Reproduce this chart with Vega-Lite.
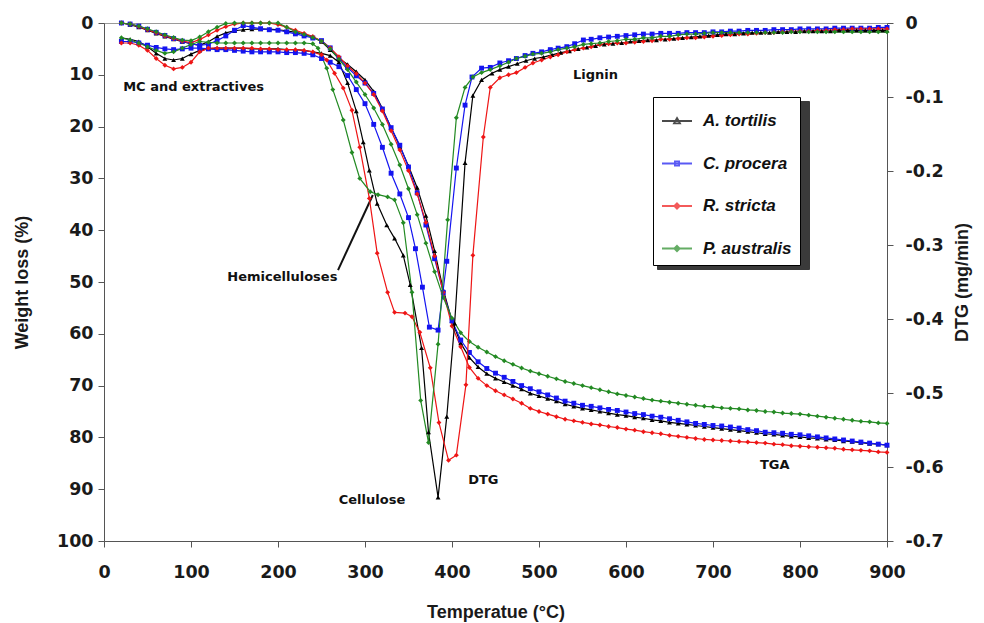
{
"$schema":"https://vega.github.io/schema/vega-lite/v6.json",
"width":783,"height":518,
"autosize":{"type":"none"},
"padding":{"left":104,"top":23,"right":97,"bottom":82},
"background":"white",
"config":{"font":"Liberation Sans","view":{"stroke":"#9a9a9a","strokeWidth":1},
"axis":{"grid":false,"domainColor":"#555555","tickColor":"#555555","tickSize":6,"labelFont":"DejaVu Sans","labelFontSize":17.5,"labelFontWeight":"bold","labelColor":"#1a1a1a","titleFont":"Liberation Sans","titleFontSize":18,"titleFontWeight":"bold","titleColor":"#1a1a1a","labelFlush":false},
"legend":{"orient":"none","title":null,"padding":8,"labelFont":"Liberation Sans","labelFontStyle":"italic","labelFontWeight":"bold","labelFontSize":17,"labelColor":"#111111","labelOffset":10,"symbolSize":900,"rowPadding":18.5,"symbolStrokeWidth":1.8}},
"datasets":{
"notes":[
{"label":"MC and extractives","t":103,"v":12.4},
{"label":"Lignin","t":565,"v":10.0},
{"label":"Hemicelluloses","t":205,"v":49.0},
{"label":"Cellulose","t":308,"v":92.0},
{"label":"DTG","t":436,"v":88.3},
{"label":"TGA","t":771,"v":85.3}],
"arrow":[{"t":269,"v":47.7,"t2":309,"v2":33.2}],
"tga":[
{"s":"A. tortilis","t":20,"v":0},{"s":"A. tortilis","t":30,"v":0.3},{"s":"A. tortilis","t":40,"v":0.8},{"s":"A. tortilis","t":50,"v":1.4},{"s":"A. tortilis","t":60,"v":2.0},{"s":"A. tortilis","t":70,"v":2.6},{"s":"A. tortilis","t":80,"v":3.1},{"s":"A. tortilis","t":90,"v":3.6},{"s":"A. tortilis","t":100,"v":4.0},{"s":"A. tortilis","t":110,"v":4.3},{"s":"A. tortilis","t":120,"v":3.6},{"s":"A. tortilis","t":130,"v":2.6},{"s":"A. tortilis","t":140,"v":1.9},{"s":"A. tortilis","t":150,"v":1.5},{"s":"A. tortilis","t":160,"v":1.3},{"s":"A. tortilis","t":170,"v":1.2},{"s":"A. tortilis","t":180,"v":1.2},{"s":"A. tortilis","t":190,"v":1.2},{"s":"A. tortilis","t":200,"v":1.3},{"s":"A. tortilis","t":210,"v":1.5},{"s":"A. tortilis","t":220,"v":1.8},{"s":"A. tortilis","t":230,"v":2.2},{"s":"A. tortilis","t":240,"v":2.7},{"s":"A. tortilis","t":250,"v":3.6},{"s":"A. tortilis","t":260,"v":5.2},{"s":"A. tortilis","t":270,"v":6.8},{"s":"A. tortilis","t":280,"v":8.0},{"s":"A. tortilis","t":290,"v":9.4},{"s":"A. tortilis","t":300,"v":11.0},{"s":"A. tortilis","t":310,"v":13.2},{"s":"A. tortilis","t":320,"v":16.5},{"s":"A. tortilis","t":330,"v":20.2},{"s":"A. tortilis","t":340,"v":23.8},{"s":"A. tortilis","t":350,"v":27.6},{"s":"A. tortilis","t":360,"v":31.8},{"s":"A. tortilis","t":370,"v":37.2},{"s":"A. tortilis","t":380,"v":44},{"s":"A. tortilis","t":390,"v":51.5},{"s":"A. tortilis","t":400,"v":57.5},{"s":"A. tortilis","t":410,"v":61.8},{"s":"A. tortilis","t":420,"v":64.6},{"s":"A. tortilis","t":430,"v":66.4},{"s":"A. tortilis","t":440,"v":67.7},{"s":"A. tortilis","t":450,"v":68.6},{"s":"A. tortilis","t":460,"v":69.3},{"s":"A. tortilis","t":470,"v":70.0},{"s":"A. tortilis","t":480,"v":70.7},{"s":"A. tortilis","t":490,"v":71.5},{"s":"A. tortilis","t":500,"v":72.0},{"s":"A. tortilis","t":510,"v":72.5},{"s":"A. tortilis","t":520,"v":73.0},{"s":"A. tortilis","t":530,"v":73.6},{"s":"A. tortilis","t":540,"v":74.0},{"s":"A. tortilis","t":550,"v":74.4},{"s":"A. tortilis","t":560,"v":74.7},{"s":"A. tortilis","t":570,"v":75.0},{"s":"A. tortilis","t":580,"v":75.3},{"s":"A. tortilis","t":590,"v":75.6},{"s":"A. tortilis","t":600,"v":75.8},{"s":"A. tortilis","t":610,"v":76.1},{"s":"A. tortilis","t":620,"v":76.3},{"s":"A. tortilis","t":630,"v":76.6},{"s":"A. tortilis","t":640,"v":76.8},{"s":"A. tortilis","t":650,"v":77.1},{"s":"A. tortilis","t":660,"v":77.3},{"s":"A. tortilis","t":670,"v":77.5},{"s":"A. tortilis","t":680,"v":77.7},{"s":"A. tortilis","t":690,"v":77.9},{"s":"A. tortilis","t":700,"v":78.1},{"s":"A. tortilis","t":710,"v":78.3},{"s":"A. tortilis","t":720,"v":78.5},{"s":"A. tortilis","t":730,"v":78.7},{"s":"A. tortilis","t":740,"v":78.9},{"s":"A. tortilis","t":750,"v":79.1},{"s":"A. tortilis","t":760,"v":79.3},{"s":"A. tortilis","t":770,"v":79.4},{"s":"A. tortilis","t":780,"v":79.6},{"s":"A. tortilis","t":790,"v":79.8},{"s":"A. tortilis","t":800,"v":79.9},{"s":"A. tortilis","t":810,"v":80.1},{"s":"A. tortilis","t":820,"v":80.2},{"s":"A. tortilis","t":830,"v":80.4},{"s":"A. tortilis","t":840,"v":80.5},{"s":"A. tortilis","t":850,"v":80.7},{"s":"A. tortilis","t":860,"v":80.8},{"s":"A. tortilis","t":870,"v":81.0},{"s":"A. tortilis","t":880,"v":81.2},{"s":"A. tortilis","t":890,"v":81.3},{"s":"A. tortilis","t":900,"v":81.5},
{"s":"C. procera","t":20,"v":0},{"s":"C. procera","t":30,"v":0.2},{"s":"C. procera","t":40,"v":0.6},{"s":"C. procera","t":50,"v":1.2},{"s":"C. procera","t":60,"v":1.8},{"s":"C. procera","t":70,"v":2.4},{"s":"C. procera","t":80,"v":3.0},{"s":"C. procera","t":90,"v":3.5},{"s":"C. procera","t":100,"v":4.0},{"s":"C. procera","t":110,"v":4.3},{"s":"C. procera","t":120,"v":4.1},{"s":"C. procera","t":130,"v":3.4},{"s":"C. procera","t":140,"v":2.5},{"s":"C. procera","t":150,"v":1.4},{"s":"C. procera","t":160,"v":0.5},{"s":"C. procera","t":170,"v":0.8},{"s":"C. procera","t":180,"v":1.1},{"s":"C. procera","t":190,"v":1.3},{"s":"C. procera","t":200,"v":1.4},{"s":"C. procera","t":210,"v":1.7},{"s":"C. procera","t":220,"v":2.1},{"s":"C. procera","t":230,"v":2.5},{"s":"C. procera","t":240,"v":2.9},{"s":"C. procera","t":250,"v":3.4},{"s":"C. procera","t":260,"v":4.8},{"s":"C. procera","t":270,"v":6.8},{"s":"C. procera","t":280,"v":8.6},{"s":"C. procera","t":290,"v":10.2},{"s":"C. procera","t":300,"v":11.6},{"s":"C. procera","t":310,"v":13.6},{"s":"C. procera","t":320,"v":16.6},{"s":"C. procera","t":330,"v":20.2},{"s":"C. procera","t":340,"v":23.6},{"s":"C. procera","t":350,"v":27.8},{"s":"C. procera","t":360,"v":32.8},{"s":"C. procera","t":370,"v":39},{"s":"C. procera","t":380,"v":45.5},{"s":"C. procera","t":390,"v":52},{"s":"C. procera","t":400,"v":57.5},{"s":"C. procera","t":410,"v":61.2},{"s":"C. procera","t":420,"v":63.6},{"s":"C. procera","t":430,"v":65.4},{"s":"C. procera","t":440,"v":66.7},{"s":"C. procera","t":450,"v":67.6},{"s":"C. procera","t":460,"v":68.4},{"s":"C. procera","t":470,"v":69.2},{"s":"C. procera","t":480,"v":70.0},{"s":"C. procera","t":490,"v":70.6},{"s":"C. procera","t":500,"v":71.2},{"s":"C. procera","t":510,"v":71.8},{"s":"C. procera","t":520,"v":72.4},{"s":"C. procera","t":530,"v":73.0},{"s":"C. procera","t":540,"v":73.4},{"s":"C. procera","t":550,"v":73.8},{"s":"C. procera","t":560,"v":74.0},{"s":"C. procera","t":570,"v":74.3},{"s":"C. procera","t":580,"v":74.6},{"s":"C. procera","t":590,"v":74.8},{"s":"C. procera","t":600,"v":75.1},{"s":"C. procera","t":610,"v":75.4},{"s":"C. procera","t":620,"v":75.6},{"s":"C. procera","t":630,"v":75.9},{"s":"C. procera","t":640,"v":76.1},{"s":"C. procera","t":650,"v":76.4},{"s":"C. procera","t":660,"v":76.7},{"s":"C. procera","t":670,"v":77.0},{"s":"C. procera","t":680,"v":77.3},{"s":"C. procera","t":690,"v":77.5},{"s":"C. procera","t":700,"v":77.7},{"s":"C. procera","t":710,"v":77.8},{"s":"C. procera","t":720,"v":78.0},{"s":"C. procera","t":730,"v":78.2},{"s":"C. procera","t":740,"v":78.5},{"s":"C. procera","t":750,"v":78.7},{"s":"C. procera","t":760,"v":79.0},{"s":"C. procera","t":770,"v":79.1},{"s":"C. procera","t":780,"v":79.2},{"s":"C. procera","t":790,"v":79.4},{"s":"C. procera","t":800,"v":79.5},{"s":"C. procera","t":810,"v":79.7},{"s":"C. procera","t":820,"v":79.9},{"s":"C. procera","t":830,"v":80.1},{"s":"C. procera","t":840,"v":80.3},{"s":"C. procera","t":850,"v":80.5},{"s":"C. procera","t":860,"v":80.7},{"s":"C. procera","t":870,"v":80.9},{"s":"C. procera","t":880,"v":81.1},{"s":"C. procera","t":890,"v":81.3},{"s":"C. procera","t":900,"v":81.5},
{"s":"R. stricta","t":20,"v":0},{"s":"R. stricta","t":30,"v":0.2},{"s":"R. stricta","t":40,"v":0.7},{"s":"R. stricta","t":50,"v":1.3},{"s":"R. stricta","t":60,"v":1.9},{"s":"R. stricta","t":70,"v":2.5},{"s":"R. stricta","t":80,"v":3.0},{"s":"R. stricta","t":90,"v":3.5},{"s":"R. stricta","t":100,"v":3.8},{"s":"R. stricta","t":110,"v":3.2},{"s":"R. stricta","t":120,"v":2.3},{"s":"R. stricta","t":130,"v":1.4},{"s":"R. stricta","t":140,"v":0.7},{"s":"R. stricta","t":150,"v":0.2},{"s":"R. stricta","t":160,"v":0},{"s":"R. stricta","t":170,"v":0},{"s":"R. stricta","t":180,"v":0},{"s":"R. stricta","t":190,"v":0},{"s":"R. stricta","t":200,"v":0.3},{"s":"R. stricta","t":210,"v":0.8},{"s":"R. stricta","t":220,"v":1.4},{"s":"R. stricta","t":230,"v":2.0},{"s":"R. stricta","t":240,"v":2.6},{"s":"R. stricta","t":250,"v":3.5},{"s":"R. stricta","t":260,"v":4.8},{"s":"R. stricta","t":270,"v":6.5},{"s":"R. stricta","t":280,"v":8.3},{"s":"R. stricta","t":290,"v":9.8},{"s":"R. stricta","t":300,"v":11.6},{"s":"R. stricta","t":310,"v":13.8},{"s":"R. stricta","t":320,"v":17.0},{"s":"R. stricta","t":330,"v":20.8},{"s":"R. stricta","t":340,"v":24.5},{"s":"R. stricta","t":350,"v":28.5},{"s":"R. stricta","t":360,"v":33},{"s":"R. stricta","t":370,"v":38.5},{"s":"R. stricta","t":380,"v":45},{"s":"R. stricta","t":390,"v":52},{"s":"R. stricta","t":400,"v":58.5},{"s":"R. stricta","t":410,"v":62.5},{"s":"R. stricta","t":420,"v":66.5},{"s":"R. stricta","t":430,"v":68.6},{"s":"R. stricta","t":440,"v":70.0},{"s":"R. stricta","t":450,"v":71.0},{"s":"R. stricta","t":460,"v":71.8},{"s":"R. stricta","t":470,"v":72.6},{"s":"R. stricta","t":480,"v":73.4},{"s":"R. stricta","t":490,"v":74.4},{"s":"R. stricta","t":500,"v":75.0},{"s":"R. stricta","t":510,"v":75.5},{"s":"R. stricta","t":520,"v":76.0},{"s":"R. stricta","t":530,"v":76.5},{"s":"R. stricta","t":540,"v":76.8},{"s":"R. stricta","t":550,"v":77.1},{"s":"R. stricta","t":560,"v":77.4},{"s":"R. stricta","t":570,"v":77.6},{"s":"R. stricta","t":580,"v":77.9},{"s":"R. stricta","t":590,"v":78.1},{"s":"R. stricta","t":600,"v":78.4},{"s":"R. stricta","t":610,"v":78.6},{"s":"R. stricta","t":620,"v":78.9},{"s":"R. stricta","t":630,"v":79.1},{"s":"R. stricta","t":640,"v":79.3},{"s":"R. stricta","t":650,"v":79.6},{"s":"R. stricta","t":660,"v":79.8},{"s":"R. stricta","t":670,"v":80.0},{"s":"R. stricta","t":680,"v":80.2},{"s":"R. stricta","t":690,"v":80.4},{"s":"R. stricta","t":700,"v":80.5},{"s":"R. stricta","t":710,"v":80.6},{"s":"R. stricta","t":720,"v":80.7},{"s":"R. stricta","t":730,"v":80.8},{"s":"R. stricta","t":740,"v":80.9},{"s":"R. stricta","t":750,"v":81.0},{"s":"R. stricta","t":760,"v":81.1},{"s":"R. stricta","t":770,"v":81.3},{"s":"R. stricta","t":780,"v":81.4},{"s":"R. stricta","t":790,"v":81.6},{"s":"R. stricta","t":800,"v":81.7},{"s":"R. stricta","t":810,"v":81.8},{"s":"R. stricta","t":820,"v":81.9},{"s":"R. stricta","t":830,"v":82.0},{"s":"R. stricta","t":840,"v":82.1},{"s":"R. stricta","t":850,"v":82.3},{"s":"R. stricta","t":860,"v":82.4},{"s":"R. stricta","t":870,"v":82.5},{"s":"R. stricta","t":880,"v":82.6},{"s":"R. stricta","t":890,"v":82.8},{"s":"R. stricta","t":900,"v":82.9},
{"s":"P. australis","t":20,"v":0},{"s":"P. australis","t":30,"v":0.2},{"s":"P. australis","t":40,"v":0.6},{"s":"P. australis","t":50,"v":1.1},{"s":"P. australis","t":60,"v":1.7},{"s":"P. australis","t":70,"v":2.3},{"s":"P. australis","t":80,"v":2.8},{"s":"P. australis","t":90,"v":3.3},{"s":"P. australis","t":100,"v":3.4},{"s":"P. australis","t":110,"v":2.7},{"s":"P. australis","t":120,"v":1.7},{"s":"P. australis","t":130,"v":0.8},{"s":"P. australis","t":140,"v":0.1},{"s":"P. australis","t":150,"v":0},{"s":"P. australis","t":160,"v":0},{"s":"P. australis","t":170,"v":0},{"s":"P. australis","t":180,"v":0},{"s":"P. australis","t":190,"v":0},{"s":"P. australis","t":200,"v":0},{"s":"P. australis","t":210,"v":0.8},{"s":"P. australis","t":220,"v":1.7},{"s":"P. australis","t":230,"v":2.2},{"s":"P. australis","t":240,"v":2.8},{"s":"P. australis","t":250,"v":3.5},{"s":"P. australis","t":260,"v":5.0},{"s":"P. australis","t":270,"v":7.0},{"s":"P. australis","t":280,"v":9.0},{"s":"P. australis","t":290,"v":11.4},{"s":"P. australis","t":300,"v":13.8},{"s":"P. australis","t":310,"v":16.4},{"s":"P. australis","t":320,"v":19.6},{"s":"P. australis","t":330,"v":23.4},{"s":"P. australis","t":340,"v":27.4},{"s":"P. australis","t":350,"v":32},{"s":"P. australis","t":360,"v":37},{"s":"P. australis","t":370,"v":42.5},{"s":"P. australis","t":380,"v":48},{"s":"P. australis","t":390,"v":53},{"s":"P. australis","t":400,"v":57},{"s":"P. australis","t":410,"v":59.8},{"s":"P. australis","t":420,"v":61.5},{"s":"P. australis","t":430,"v":62.6},{"s":"P. australis","t":440,"v":63.5},{"s":"P. australis","t":450,"v":64.4},{"s":"P. australis","t":460,"v":65.2},{"s":"P. australis","t":470,"v":65.9},{"s":"P. australis","t":480,"v":66.6},{"s":"P. australis","t":490,"v":67.2},{"s":"P. australis","t":500,"v":67.7},{"s":"P. australis","t":510,"v":68.2},{"s":"P. australis","t":520,"v":68.7},{"s":"P. australis","t":530,"v":69.2},{"s":"P. australis","t":540,"v":69.6},{"s":"P. australis","t":550,"v":70.0},{"s":"P. australis","t":560,"v":70.4},{"s":"P. australis","t":570,"v":70.8},{"s":"P. australis","t":580,"v":71.2},{"s":"P. australis","t":590,"v":71.6},{"s":"P. australis","t":600,"v":71.9},{"s":"P. australis","t":610,"v":72.2},{"s":"P. australis","t":620,"v":72.5},{"s":"P. australis","t":630,"v":72.8},{"s":"P. australis","t":640,"v":73.0},{"s":"P. australis","t":650,"v":73.2},{"s":"P. australis","t":660,"v":73.4},{"s":"P. australis","t":670,"v":73.6},{"s":"P. australis","t":680,"v":73.8},{"s":"P. australis","t":690,"v":74.0},{"s":"P. australis","t":700,"v":74.1},{"s":"P. australis","t":710,"v":74.3},{"s":"P. australis","t":720,"v":74.4},{"s":"P. australis","t":730,"v":74.5},{"s":"P. australis","t":740,"v":74.7},{"s":"P. australis","t":750,"v":74.8},{"s":"P. australis","t":760,"v":75.0},{"s":"P. australis","t":770,"v":75.1},{"s":"P. australis","t":780,"v":75.3},{"s":"P. australis","t":790,"v":75.4},{"s":"P. australis","t":800,"v":75.5},{"s":"P. australis","t":810,"v":75.7},{"s":"P. australis","t":820,"v":75.9},{"s":"P. australis","t":830,"v":76.1},{"s":"P. australis","t":840,"v":76.3},{"s":"P. australis","t":850,"v":76.5},{"s":"P. australis","t":860,"v":76.7},{"s":"P. australis","t":870,"v":76.9},{"s":"P. australis","t":880,"v":77.0},{"s":"P. australis","t":890,"v":77.2},{"s":"P. australis","t":900,"v":77.3}
],
"dtg":[
{"s":"A. tortilis","t":20,"v":-0.020},{"s":"A. tortilis","t":30,"v":-0.022},{"s":"A. tortilis","t":40,"v":-0.025},{"s":"A. tortilis","t":50,"v":-0.032},{"s":"A. tortilis","t":60,"v":-0.041},{"s":"A. tortilis","t":70,"v":-0.048},{"s":"A. tortilis","t":80,"v":-0.050},{"s":"A. tortilis","t":90,"v":-0.048},{"s":"A. tortilis","t":100,"v":-0.042},{"s":"A. tortilis","t":110,"v":-0.037},{"s":"A. tortilis","t":120,"v":-0.035},{"s":"A. tortilis","t":130,"v":-0.034},{"s":"A. tortilis","t":140,"v":-0.034},{"s":"A. tortilis","t":150,"v":-0.034},{"s":"A. tortilis","t":160,"v":-0.034},{"s":"A. tortilis","t":170,"v":-0.035},{"s":"A. tortilis","t":180,"v":-0.035},{"s":"A. tortilis","t":190,"v":-0.035},{"s":"A. tortilis","t":200,"v":-0.035},{"s":"A. tortilis","t":210,"v":-0.036},{"s":"A. tortilis","t":220,"v":-0.036},{"s":"A. tortilis","t":230,"v":-0.037},{"s":"A. tortilis","t":240,"v":-0.039},{"s":"A. tortilis","t":250,"v":-0.041},{"s":"A. tortilis","t":260,"v":-0.044},{"s":"A. tortilis","t":270,"v":-0.053},{"s":"A. tortilis","t":280,"v":-0.081},{"s":"A. tortilis","t":290,"v":-0.119},{"s":"A. tortilis","t":298,"v":-0.161},{"s":"A. tortilis","t":305,"v":-0.199},{"s":"A. tortilis","t":314,"v":-0.244},{"s":"A. tortilis","t":325,"v":-0.273},{"s":"A. tortilis","t":334,"v":-0.291},{"s":"A. tortilis","t":344,"v":-0.314},{"s":"A. tortilis","t":352,"v":-0.354},{"s":"A. tortilis","t":365,"v":-0.439},{"s":"A. tortilis","t":373,"v":-0.553},{"s":"A. tortilis","t":384,"v":-0.641},{"s":"A. tortilis","t":394,"v":-0.532},{"s":"A. tortilis","t":403,"v":-0.406},{"s":"A. tortilis","t":415,"v":-0.189},{"s":"A. tortilis","t":424,"v":-0.098},{"s":"A. tortilis","t":434,"v":-0.077},{"s":"A. tortilis","t":446,"v":-0.068},{"s":"A. tortilis","t":455,"v":-0.063},{"s":"A. tortilis","t":465,"v":-0.059},{"s":"A. tortilis","t":475,"v":-0.055},{"s":"A. tortilis","t":485,"v":-0.051},{"s":"A. tortilis","t":495,"v":-0.048},{"s":"A. tortilis","t":505,"v":-0.046},{"s":"A. tortilis","t":515,"v":-0.043},{"s":"A. tortilis","t":525,"v":-0.040},{"s":"A. tortilis","t":535,"v":-0.038},{"s":"A. tortilis","t":545,"v":-0.035},{"s":"A. tortilis","t":555,"v":-0.033},{"s":"A. tortilis","t":565,"v":-0.031},{"s":"A. tortilis","t":575,"v":-0.029},{"s":"A. tortilis","t":585,"v":-0.028},{"s":"A. tortilis","t":595,"v":-0.027},{"s":"A. tortilis","t":605,"v":-0.025},{"s":"A. tortilis","t":615,"v":-0.024},{"s":"A. tortilis","t":625,"v":-0.023},{"s":"A. tortilis","t":635,"v":-0.023},{"s":"A. tortilis","t":645,"v":-0.022},{"s":"A. tortilis","t":655,"v":-0.021},{"s":"A. tortilis","t":665,"v":-0.020},{"s":"A. tortilis","t":675,"v":-0.019},{"s":"A. tortilis","t":685,"v":-0.018},{"s":"A. tortilis","t":695,"v":-0.017},{"s":"A. tortilis","t":705,"v":-0.016},{"s":"A. tortilis","t":715,"v":-0.015},{"s":"A. tortilis","t":725,"v":-0.015},{"s":"A. tortilis","t":735,"v":-0.014},{"s":"A. tortilis","t":745,"v":-0.013},{"s":"A. tortilis","t":755,"v":-0.013},{"s":"A. tortilis","t":765,"v":-0.013},{"s":"A. tortilis","t":775,"v":-0.012},{"s":"A. tortilis","t":785,"v":-0.012},{"s":"A. tortilis","t":795,"v":-0.012},{"s":"A. tortilis","t":805,"v":-0.011},{"s":"A. tortilis","t":815,"v":-0.011},{"s":"A. tortilis","t":825,"v":-0.011},{"s":"A. tortilis","t":835,"v":-0.011},{"s":"A. tortilis","t":845,"v":-0.010},{"s":"A. tortilis","t":855,"v":-0.010},{"s":"A. tortilis","t":865,"v":-0.010},{"s":"A. tortilis","t":875,"v":-0.010},{"s":"A. tortilis","t":885,"v":-0.010},{"s":"A. tortilis","t":895,"v":-0.010},{"s":"A. tortilis","t":900,"v":-0.010},
{"s":"C. procera","t":20,"v":-0.025},{"s":"C. procera","t":30,"v":-0.025},{"s":"C. procera","t":40,"v":-0.027},{"s":"C. procera","t":50,"v":-0.030},{"s":"C. procera","t":60,"v":-0.033},{"s":"C. procera","t":70,"v":-0.035},{"s":"C. procera","t":80,"v":-0.036},{"s":"C. procera","t":90,"v":-0.035},{"s":"C. procera","t":100,"v":-0.034},{"s":"C. procera","t":110,"v":-0.034},{"s":"C. procera","t":120,"v":-0.035},{"s":"C. procera","t":130,"v":-0.036},{"s":"C. procera","t":140,"v":-0.036},{"s":"C. procera","t":150,"v":-0.037},{"s":"C. procera","t":160,"v":-0.038},{"s":"C. procera","t":170,"v":-0.039},{"s":"C. procera","t":180,"v":-0.039},{"s":"C. procera","t":190,"v":-0.039},{"s":"C. procera","t":200,"v":-0.039},{"s":"C. procera","t":210,"v":-0.040},{"s":"C. procera","t":220,"v":-0.040},{"s":"C. procera","t":230,"v":-0.041},{"s":"C. procera","t":240,"v":-0.043},{"s":"C. procera","t":250,"v":-0.048},{"s":"C. procera","t":260,"v":-0.053},{"s":"C. procera","t":270,"v":-0.059},{"s":"C. procera","t":280,"v":-0.071},{"s":"C. procera","t":290,"v":-0.090},{"s":"C. procera","t":300,"v":-0.109},{"s":"C. procera","t":310,"v":-0.137},{"s":"C. procera","t":320,"v":-0.168},{"s":"C. procera","t":330,"v":-0.203},{"s":"C. procera","t":340,"v":-0.231},{"s":"C. procera","t":350,"v":-0.263},{"s":"C. procera","t":358,"v":-0.305},{"s":"C. procera","t":366,"v":-0.357},{"s":"C. procera","t":374,"v":-0.411},{"s":"C. procera","t":384,"v":-0.415},{"s":"C. procera","t":394,"v":-0.322},{"s":"C. procera","t":405,"v":-0.196},{"s":"C. procera","t":415,"v":-0.111},{"s":"C. procera","t":423,"v":-0.073},{"s":"C. procera","t":434,"v":-0.061},{"s":"C. procera","t":444,"v":-0.060},{"s":"C. procera","t":455,"v":-0.054},{"s":"C. procera","t":465,"v":-0.051},{"s":"C. procera","t":474,"v":-0.048},{"s":"C. procera","t":484,"v":-0.044},{"s":"C. procera","t":493,"v":-0.041},{"s":"C. procera","t":503,"v":-0.039},{"s":"C. procera","t":513,"v":-0.036},{"s":"C. procera","t":522,"v":-0.034},{"s":"C. procera","t":532,"v":-0.032},{"s":"C. procera","t":541,"v":-0.028},{"s":"C. procera","t":551,"v":-0.023},{"s":"C. procera","t":560,"v":-0.022},{"s":"C. procera","t":570,"v":-0.020},{"s":"C. procera","t":580,"v":-0.019},{"s":"C. procera","t":590,"v":-0.018},{"s":"C. procera","t":600,"v":-0.017},{"s":"C. procera","t":610,"v":-0.016},{"s":"C. procera","t":620,"v":-0.015},{"s":"C. procera","t":630,"v":-0.015},{"s":"C. procera","t":640,"v":-0.014},{"s":"C. procera","t":650,"v":-0.014},{"s":"C. procera","t":660,"v":-0.014},{"s":"C. procera","t":670,"v":-0.013},{"s":"C. procera","t":680,"v":-0.013},{"s":"C. procera","t":690,"v":-0.013},{"s":"C. procera","t":700,"v":-0.012},{"s":"C. procera","t":710,"v":-0.012},{"s":"C. procera","t":720,"v":-0.011},{"s":"C. procera","t":730,"v":-0.011},{"s":"C. procera","t":740,"v":-0.010},{"s":"C. procera","t":750,"v":-0.010},{"s":"C. procera","t":760,"v":-0.010},{"s":"C. procera","t":770,"v":-0.009},{"s":"C. procera","t":780,"v":-0.009},{"s":"C. procera","t":790,"v":-0.009},{"s":"C. procera","t":800,"v":-0.008},{"s":"C. procera","t":810,"v":-0.008},{"s":"C. procera","t":820,"v":-0.008},{"s":"C. procera","t":830,"v":-0.008},{"s":"C. procera","t":840,"v":-0.007},{"s":"C. procera","t":850,"v":-0.007},{"s":"C. procera","t":860,"v":-0.007},{"s":"C. procera","t":870,"v":-0.007},{"s":"C. procera","t":880,"v":-0.007},{"s":"C. procera","t":890,"v":-0.006},{"s":"C. procera","t":900,"v":-0.006},
{"s":"R. stricta","t":20,"v":-0.027},{"s":"R. stricta","t":30,"v":-0.027},{"s":"R. stricta","t":40,"v":-0.030},{"s":"R. stricta","t":50,"v":-0.037},{"s":"R. stricta","t":60,"v":-0.048},{"s":"R. stricta","t":70,"v":-0.057},{"s":"R. stricta","t":80,"v":-0.062},{"s":"R. stricta","t":90,"v":-0.060},{"s":"R. stricta","t":100,"v":-0.053},{"s":"R. stricta","t":110,"v":-0.039},{"s":"R. stricta","t":120,"v":-0.034},{"s":"R. stricta","t":130,"v":-0.034},{"s":"R. stricta","t":140,"v":-0.034},{"s":"R. stricta","t":150,"v":-0.034},{"s":"R. stricta","t":160,"v":-0.034},{"s":"R. stricta","t":170,"v":-0.034},{"s":"R. stricta","t":180,"v":-0.035},{"s":"R. stricta","t":190,"v":-0.035},{"s":"R. stricta","t":200,"v":-0.036},{"s":"R. stricta","t":210,"v":-0.036},{"s":"R. stricta","t":220,"v":-0.036},{"s":"R. stricta","t":230,"v":-0.037},{"s":"R. stricta","t":240,"v":-0.039},{"s":"R. stricta","t":250,"v":-0.043},{"s":"R. stricta","t":256,"v":-0.050},{"s":"R. stricta","t":265,"v":-0.068},{"s":"R. stricta","t":275,"v":-0.088},{"s":"R. stricta","t":285,"v":-0.118},{"s":"R. stricta","t":294,"v":-0.168},{"s":"R. stricta","t":305,"v":-0.237},{"s":"R. stricta","t":314,"v":-0.311},{"s":"R. stricta","t":326,"v":-0.364},{"s":"R. stricta","t":334,"v":-0.391},{"s":"R. stricta","t":346,"v":-0.392},{"s":"R. stricta","t":354,"v":-0.397},{"s":"R. stricta","t":363,"v":-0.418},{"s":"R. stricta","t":375,"v":-0.466},{"s":"R. stricta","t":385,"v":-0.540},{"s":"R. stricta","t":396,"v":-0.591},{"s":"R. stricta","t":405,"v":-0.584},{"s":"R. stricta","t":416,"v":-0.489},{"s":"R. stricta","t":424,"v":-0.314},{"s":"R. stricta","t":436,"v":-0.154},{"s":"R. stricta","t":444,"v":-0.087},{"s":"R. stricta","t":455,"v":-0.074},{"s":"R. stricta","t":465,"v":-0.070},{"s":"R. stricta","t":474,"v":-0.067},{"s":"R. stricta","t":484,"v":-0.060},{"s":"R. stricta","t":493,"v":-0.054},{"s":"R. stricta","t":503,"v":-0.050},{"s":"R. stricta","t":513,"v":-0.046},{"s":"R. stricta","t":522,"v":-0.043},{"s":"R. stricta","t":532,"v":-0.039},{"s":"R. stricta","t":541,"v":-0.036},{"s":"R. stricta","t":551,"v":-0.034},{"s":"R. stricta","t":560,"v":-0.032},{"s":"R. stricta","t":570,"v":-0.029},{"s":"R. stricta","t":580,"v":-0.028},{"s":"R. stricta","t":590,"v":-0.027},{"s":"R. stricta","t":600,"v":-0.027},{"s":"R. stricta","t":610,"v":-0.026},{"s":"R. stricta","t":620,"v":-0.025},{"s":"R. stricta","t":630,"v":-0.024},{"s":"R. stricta","t":640,"v":-0.022},{"s":"R. stricta","t":650,"v":-0.022},{"s":"R. stricta","t":660,"v":-0.021},{"s":"R. stricta","t":670,"v":-0.020},{"s":"R. stricta","t":680,"v":-0.020},{"s":"R. stricta","t":690,"v":-0.019},{"s":"R. stricta","t":700,"v":-0.018},{"s":"R. stricta","t":710,"v":-0.017},{"s":"R. stricta","t":720,"v":-0.016},{"s":"R. stricta","t":730,"v":-0.015},{"s":"R. stricta","t":740,"v":-0.015},{"s":"R. stricta","t":750,"v":-0.014},{"s":"R. stricta","t":760,"v":-0.013},{"s":"R. stricta","t":770,"v":-0.013},{"s":"R. stricta","t":780,"v":-0.012},{"s":"R. stricta","t":790,"v":-0.011},{"s":"R. stricta","t":800,"v":-0.011},{"s":"R. stricta","t":810,"v":-0.011},{"s":"R. stricta","t":820,"v":-0.010},{"s":"R. stricta","t":830,"v":-0.010},{"s":"R. stricta","t":840,"v":-0.009},{"s":"R. stricta","t":850,"v":-0.009},{"s":"R. stricta","t":860,"v":-0.008},{"s":"R. stricta","t":870,"v":-0.008},{"s":"R. stricta","t":880,"v":-0.008},{"s":"R. stricta","t":890,"v":-0.008},{"s":"R. stricta","t":900,"v":-0.008},
{"s":"P. australis","t":20,"v":-0.020},{"s":"P. australis","t":30,"v":-0.023},{"s":"P. australis","t":40,"v":-0.027},{"s":"P. australis","t":50,"v":-0.032},{"s":"P. australis","t":60,"v":-0.037},{"s":"P. australis","t":70,"v":-0.041},{"s":"P. australis","t":80,"v":-0.039},{"s":"P. australis","t":90,"v":-0.034},{"s":"P. australis","t":100,"v":-0.029},{"s":"P. australis","t":110,"v":-0.025},{"s":"P. australis","t":120,"v":-0.026},{"s":"P. australis","t":130,"v":-0.027},{"s":"P. australis","t":140,"v":-0.027},{"s":"P. australis","t":150,"v":-0.027},{"s":"P. australis","t":160,"v":-0.027},{"s":"P. australis","t":170,"v":-0.027},{"s":"P. australis","t":180,"v":-0.027},{"s":"P. australis","t":190,"v":-0.027},{"s":"P. australis","t":200,"v":-0.027},{"s":"P. australis","t":210,"v":-0.027},{"s":"P. australis","t":220,"v":-0.027},{"s":"P. australis","t":230,"v":-0.027},{"s":"P. australis","t":240,"v":-0.028},{"s":"P. australis","t":246,"v":-0.034},{"s":"P. australis","t":256,"v":-0.061},{"s":"P. australis","t":263,"v":-0.090},{"s":"P. australis","t":275,"v":-0.131},{"s":"P. australis","t":285,"v":-0.175},{"s":"P. australis","t":294,"v":-0.210},{"s":"P. australis","t":306,"v":-0.228},{"s":"P. australis","t":315,"v":-0.232},{"s":"P. australis","t":326,"v":-0.235},{"s":"P. australis","t":334,"v":-0.239},{"s":"P. australis","t":344,"v":-0.270},{"s":"P. australis","t":354,"v":-0.364},{"s":"P. australis","t":364,"v":-0.510},{"s":"P. australis","t":373,"v":-0.567},{"s":"P. australis","t":384,"v":-0.434},{"s":"P. australis","t":395,"v":-0.266},{"s":"P. australis","t":405,"v":-0.128},{"s":"P. australis","t":415,"v":-0.087},{"s":"P. australis","t":424,"v":-0.073},{"s":"P. australis","t":434,"v":-0.067},{"s":"P. australis","t":444,"v":-0.063},{"s":"P. australis","t":455,"v":-0.058},{"s":"P. australis","t":465,"v":-0.053},{"s":"P. australis","t":474,"v":-0.048},{"s":"P. australis","t":484,"v":-0.045},{"s":"P. australis","t":493,"v":-0.042},{"s":"P. australis","t":503,"v":-0.041},{"s":"P. australis","t":513,"v":-0.039},{"s":"P. australis","t":522,"v":-0.036},{"s":"P. australis","t":532,"v":-0.034},{"s":"P. australis","t":541,"v":-0.032},{"s":"P. australis","t":551,"v":-0.029},{"s":"P. australis","t":560,"v":-0.028},{"s":"P. australis","t":570,"v":-0.027},{"s":"P. australis","t":580,"v":-0.025},{"s":"P. australis","t":590,"v":-0.024},{"s":"P. australis","t":600,"v":-0.022},{"s":"P. australis","t":610,"v":-0.022},{"s":"P. australis","t":620,"v":-0.020},{"s":"P. australis","t":630,"v":-0.020},{"s":"P. australis","t":640,"v":-0.018},{"s":"P. australis","t":650,"v":-0.018},{"s":"P. australis","t":660,"v":-0.016},{"s":"P. australis","t":670,"v":-0.015},{"s":"P. australis","t":680,"v":-0.015},{"s":"P. australis","t":690,"v":-0.014},{"s":"P. australis","t":700,"v":-0.013},{"s":"P. australis","t":710,"v":-0.013},{"s":"P. australis","t":720,"v":-0.013},{"s":"P. australis","t":730,"v":-0.013},{"s":"P. australis","t":740,"v":-0.013},{"s":"P. australis","t":750,"v":-0.013},{"s":"P. australis","t":760,"v":-0.013},{"s":"P. australis","t":770,"v":-0.013},{"s":"P. australis","t":780,"v":-0.013},{"s":"P. australis","t":790,"v":-0.012},{"s":"P. australis","t":800,"v":-0.012},{"s":"P. australis","t":810,"v":-0.012},{"s":"P. australis","t":820,"v":-0.012},{"s":"P. australis","t":830,"v":-0.012},{"s":"P. australis","t":840,"v":-0.012},{"s":"P. australis","t":850,"v":-0.012},{"s":"P. australis","t":860,"v":-0.012},{"s":"P. australis","t":870,"v":-0.012},{"s":"P. australis","t":880,"v":-0.012},{"s":"P. australis","t":890,"v":-0.012},{"s":"P. australis","t":900,"v":-0.012}
]},
"encoding":{
"x":{"field":"t","type":"quantitative","scale":{"domain":[0,900],"nice":false,"zero":false},"axis":{"title":"Temperatue (°C)","values":[0,100,200,300,400,500,600,700,800,900],"labelPadding":16,"titlePadding":23,"tickSize":6}}
},
"layer":[
{
"encoding":{
"y":{"field":"v","type":"quantitative","scale":{"domain":[0,100],"reverse":true,"nice":false},"axis":{"orient":"left","title":"Weight loss (%)","values":[0,10,20,30,40,50,60,70,80,90,100],"labelPadding":5,"titlePadding":25,"tickSize":6}}
},
"layer":[
{"data":{"name":"tga"},"mark":{"type":"line","strokeWidth":1.2},"encoding":{"color":{"field":"s","type":"nominal","scale":{"domain":["A. tortilis","C. procera","R. stricta","P. australis"],"range":["#000000","#1414f0","#ee1515","#238a23"]},"legend":null}}},
{"data":{"name":"tga"},"mark":{"type":"point","filled":true,"size":24,"opacity":1},"encoding":{"color":{"field":"s","type":"nominal","legend":null},"shape":{"field":"s","type":"nominal","scale":{"domain":["A. tortilis","C. procera","R. stricta","P. australis"],"range":["triangle-up","square","diamond","diamond"]},"legend":null}}},
{"data":{"name":"notes"},"mark":{"type":"text","font":"DejaVu Sans","fontWeight":"bold","fontSize":13,"color":"#111111","align":"center","baseline":"middle"},"encoding":{"text":{"field":"label"}}},
{"data":{"name":"arrow"},"mark":{"type":"rule","strokeWidth":2,"color":"#111111"},"encoding":{"x2":{"field":"t2"},"y2":{"field":"v2"}}}
]
},
{
"data":{"name":"dtg"},
"encoding":{
"y":{"field":"v","type":"quantitative","scale":{"domain":[-0.7,0],"nice":false,"zero":false},"axis":{"orient":"right","title":"DTG (mg/min)","titleAngle":-90,"values":[0,-0.1,-0.2,-0.3,-0.4,-0.5,-0.6,-0.7],"labelExpr":"datum.value == 0 ? '0' : '-' + format(-datum.value, '.1f')","labelPadding":12,"titlePadding":28,"tickSize":6}}
},
"layer":[
{"mark":{"type":"line","strokeWidth":1.2},"encoding":{"color":{"field":"s","type":"nominal","scale":{"domain":["A. tortilis","C. procera","R. stricta","P. australis"],"range":["#000000","#1414f0","#ee1515","#238a23"]},"legend":null}}},
{"mark":{"type":"point","filled":true,"size":24,"opacity":1},"encoding":{"color":{"field":"s","type":"nominal","legend":null},"shape":{"field":"s","type":"nominal","scale":{"domain":["A. tortilis","C. procera","R. stricta","P. australis"],"range":["triangle-up","square","diamond","diamond"]},"legend":null}}}
]
},
{
"data":{"values":[]},
"mark":{"type":"point","filled":false,"size":900,"strokeWidth":1.8},
"encoding":{
"x":{"value":0},
"color":{"field":"s","type":"nominal","scale":{"domain":["A. tortilis","C. procera","R. stricta","P. australis"],"range":["#000000","#1414f0","#ee1515","#238a23"]},"legend":{"legendX":549,"legendY":74,"fillColor":"white","strokeColor":"#000000"}},
"shape":{"field":"s","type":"nominal","scale":{"domain":["A. tortilis","C. procera","R. stricta","P. australis"],"range":["M-1,0H1M0,-0.2L0.2,0.16H-0.2Z","M-1,0H1M-0.14,-0.14H0.14V0.14H-0.14Z","M-1,0H1M0,-0.18L0.18,0L0,0.18L-0.18,0Z","M-1,0H1M0,-0.18L0.18,0L0,0.18L-0.18,0Z"]},"legend":{"legendX":549,"legendY":74,"fillColor":"white","strokeColor":"#000000"}}
}
},
{
"data":{"values":[]},
"mark":{"type":"point","filled":true,"size":900},
"encoding":{
"x":{"value":0},
"fill":{"field":"k","type":"nominal","scale":{"domain":["a","b","c","d"],"range":["#3a3a3a","#3a3a3a","#3a3a3a","#3a3a3a"]},"legend":{"legendX":553,"legendY":78,"fillColor":"#3a3a3a","strokeColor":"#3a3a3a","labelColor":"#3a3a3a","symbolType":"M-1,0H1M0,-0.2L0.2,0L0,0.2L-0.2,0Z","labelExpr":"''","labelOffset":104}}
}
}
],
"resolve":{"scale":{"y":"independent","shape":"independent","color":"independent"}}
}
